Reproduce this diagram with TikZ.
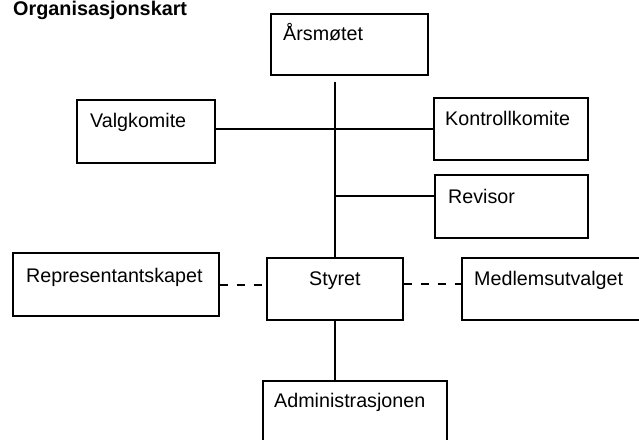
\documentclass[tikz,border=0pt]{standalone}
\usepackage{fontspec}
\setmainfont{Liberation Sans}
\usetikzlibrary{calc}
\tikzset{
  box/.style={draw=black, line width=1.6pt, rectangle, inner sep=0pt, anchor=north west},
  txt/.style={anchor=base west, inner sep=0pt, font=\fontsize{19.7}{23}\selectfont},
  conn/.style={draw=black, line width=1.6pt},
  dconn/.style={draw=black, line width=1.4pt, dash pattern=on 8pt off 9pt}
}
\begin{document}
\begin{tikzpicture}[x=1pt, y=-1pt]
\useasboundingbox (0,0) rectangle (639,439);
% title
\node[anchor=base west, inner sep=0pt, font=\bfseries\fontsize{19.8}{23}\selectfont] (title) at (13,16) {Organisasjonskart};
% boxes
\node[box, minimum width=157pt, minimum height=61pt] (aars) at (270,13) {};
\node[txt] (aarsT) at ($(aars.north west)+(13,27)$) {Årsmøtet};
\node[box, minimum width=138pt, minimum height=63pt] (valg) at (76,99) {};
\node[txt] (valgT) at ($(valg.north west)+(14,28)$) {Valgkomite};
\node[box, minimum width=154pt, minimum height=62pt] (kontroll) at (433,97) {};
\node[txt] (kontrollT) at ($(kontroll.north west)+(12,28)$) {Kontrollkomite};
\node[box, minimum width=153pt, minimum height=63pt] (revisor) at (434,174) {};
\node[txt] (revisorT) at ($(revisor.north west)+(14,29)$) {Revisor};
\node[box, minimum width=206pt, minimum height=63pt] (repr) at (12,252) {};
\node[txt] (reprT) at ($(repr.north west)+(14,30)$) {Representantskapet};
\node[box, minimum width=136pt, minimum height=62pt] (styret) at (266,257) {};
\node[txt] (styretT) at ($(styret.north west)+(43,28)$) {Styret};
\node[box, minimum width=190pt, minimum height=62pt] (medlem) at (461,257) {};
\node[txt] (medlemT) at ($(medlem.north west)+(13,28)$) {Medlemsutvalget};
\node[box, minimum width=184pt, minimum height=70pt] (admin) at (262,380) {};
\node[txt] (adminT) at ($(admin.north west)+(12,27)$) {Administrasjonen};
% connectors
\coordinate (spinetop) at ($(aars.south -| styret.north)+(0,6)$);
\draw[conn] (spinetop) -- (styret.north);
\draw[conn] (valg.east |- 0,129) -- (kontroll.west |- 0,129);
\coordinate (revj) at (spinetop |- 0,196);
\draw[conn] (revj) -- (revisor.west |- revj);
\draw[dconn] (repr.east |- 0,285) -- (styret.west |- 0,285);
\draw[dconn] (styret.east |- 0,284) -- (medlem.west |- 0,284);
\draw[conn] (styret.south) -- (admin.north -| styret.south);
\end{tikzpicture}
\end{document}
